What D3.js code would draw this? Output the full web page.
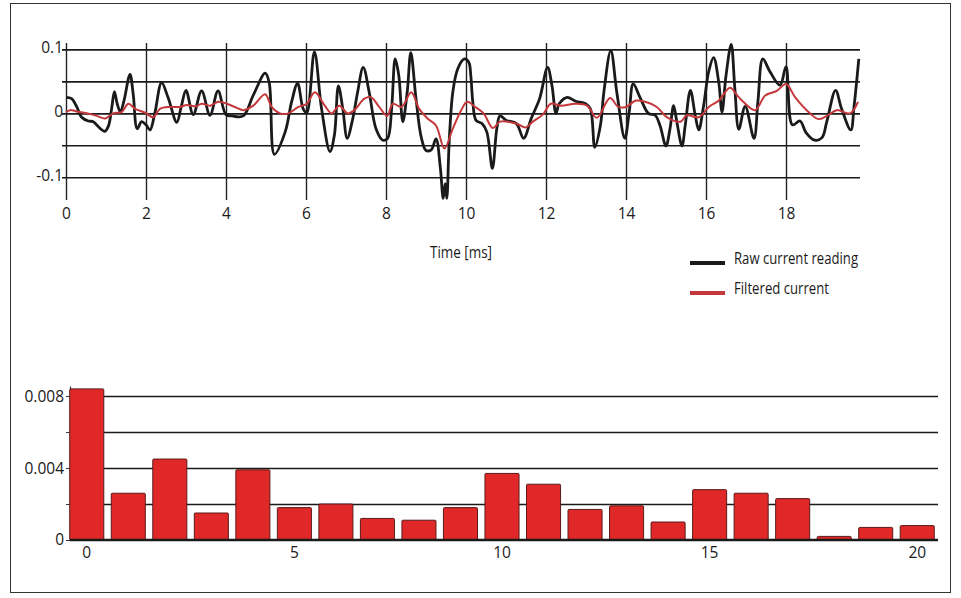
<!DOCTYPE html>
<html>
<head>
<meta charset="utf-8">
<script src="https://cdn.jsdelivr.net/npm/d3@7"></script>
<style>
  html, body { margin: 0; padding: 0; background: #fff; }
  svg text { font-family: "Open Sans", "DejaVu Sans", sans-serif; fill: #1a1a1a; }
</style>
</head>
<body>
<div id="chart"></div>
<script>
// Time signal, [ms, current]
var rawCurrent = [
  [0,0.025],[0.14,0.023],[0.27,0.01],[0.39,-0.006],[0.56,-0.012],[0.68,-0.013],[0.81,-0.021],[0.97,-0.028],
  [1.06,-0.02],[1.14,0.007],[1.21,0.034],[1.28,0.015],[1.36,0.002],[1.45,0.02],[1.6,0.061],[1.68,0.03],
  [1.78,-0.024],[1.89,-0.013],[2.0,-0.018],[2.1,-0.026],[2.22,0],[2.39,0.048],[2.55,0.025],[2.77,-0.014],
  [2.88,0.01],[3.0,0.036],[3.18,-0.002],[3.39,0.035],[3.6,-0.003],[3.8,0.035],[4.0,-0.002],[4.15,-0.004],
  [4.43,-0.004],[4.68,0.028],[4.98,0.063],[5.08,0.048],[5.21,-0.064],[5.48,-0.029],[5.64,0.018],[5.79,0.047],
  [5.93,0.007],[6.02,0.001],[6.21,0.096],[6.39,0.007],[6.6,-0.06],[6.71,-0.034],[6.81,0.043],[6.92,0.007],
  [7.03,-0.039],[7.17,-0.008],[7.29,0.033],[7.43,0.072],[7.58,0.033],[7.75,-0.024],[7.92,-0.042],[8.04,-0.039],
  [8.14,0.007],[8.23,0.085],[8.32,0.059],[8.42,-0.013],[8.53,0.033],[8.62,0.095],[8.75,0.023],[8.88,-0.037],
  [9.0,-0.058],[9.13,-0.057],[9.25,-0.04],[9.36,-0.086],[9.43,-0.133],[9.48,-0.11],[9.52,-0.133],[9.58,-0.044],
  [9.67,0.033],[9.79,0.069],[9.96,0.085],[10.07,0.08],[10.12,0.059],[10.17,0.018],[10.25,-0.011],[10.4,-0.016],
  [10.52,-0.029],[10.66,-0.086],[10.77,-0.024],[10.85,-0.004],[11.01,-0.011],[11.26,-0.016],[11.44,-0.039],
  [11.63,-0.008],[11.84,0.023],[12.04,0.072],[12.15,0.043],[12.25,0],[12.33,0.015],[12.53,0.025],[12.74,0.019],
  [12.99,0.015],[13.11,0.007],[13.22,-0.053],[13.36,-0.019],[13.45,0.035],[13.62,0.098],[13.77,0.033],
  [13.97,-0.039],[14.08,0.002],[14.18,0.046],[14.35,0.025],[14.56,0],[14.73,-0.003],[14.85,-0.019],[15.0,-0.051],
  [15.1,-0.024],[15.19,0.012],[15.27,-0.013],[15.4,-0.051],[15.48,-0.019],[15.61,0.036],[15.73,-0.003],
  [15.82,-0.026],[15.94,0.012],[16.07,0.066],[16.19,0.087],[16.32,0.048],[16.4,0.002],[16.5,0.059],[16.63,0.108],
  [16.72,0.04],[16.82,-0.025],[16.98,0.011],[17.2,-0.039],[17.3,0.02],[17.42,0.085],[17.6,0.065],[17.85,0.044],
  [18.0,0.073],[18.16,-0.018],[18.35,-0.012],[18.5,-0.03],[18.72,-0.042],[18.9,-0.038],[19.02,-0.013],
  [19.24,0.036],[19.39,0.007],[19.62,-0.026],[19.7,0.01],[19.82,0.085]
];

var filteredCurrent = [
  [0,0.002],[0.1,0.005],[0.27,0.003],[0.52,0],[0.77,-0.004],[0.98,-0.008],[1.18,0],[1.39,0.002],[1.56,0.015],
  [1.73,0.007],[1.98,0.001],[2.18,-0.006],[2.35,0.007],[2.6,0.01],[2.85,0.01],[3.02,0.013],[3.25,0.011],
  [3.39,0.015],[3.6,0.012],[3.81,0.018],[4.02,0.015],[4.22,0.01],[4.43,0.005],[4.68,0.012],[4.98,0.03],
  [5.14,0.01],[5.35,0],[5.56,0],[5.81,0.01],[6.02,0.015],[6.22,0.033],[6.47,0.012],[6.64,0],[6.83,0.012],
  [7.04,0],[7.21,0.005],[7.46,0.023],[7.63,0.025],[7.83,0.01],[8.03,-0.004],[8.17,0.015],[8.39,0.01],
  [8.63,0.033],[8.83,0.007],[9.04,-0.008],[9.25,-0.019],[9.46,-0.055],[9.67,-0.024],[9.88,0.005],[10.03,0.018],
  [10.23,0.01],[10.44,0],[10.67,-0.023],[10.85,-0.013],[11.26,-0.016],[11.49,-0.022],[11.67,-0.013],
  [11.92,-0.002],[12.12,0.015],[12.37,0.012],[12.74,0.015],[13.03,0.012],[13.27,-0.007],[13.6,0.024],
  [13.81,0.01],[14.0,0.01],[14.25,0.02],[14.48,0.018],[14.77,0.01],[15.02,-0.006],[15.36,-0.013],[15.52,-0.003],
  [15.82,-0.006],[16.07,0.01],[16.32,0.02],[16.6,0.04],[16.78,0.028],[16.93,0.018],[17.23,0.005],[17.48,0.028],
  [17.77,0.035],[18.0,0.046],[18.23,0.025],[18.6,0],[18.81,-0.009],[19.02,-0.004],[19.27,0.005],[19.6,0],
  [19.8,0.018]
];

var timeTicks = [0, 2, 4, 6, 8, 10, 12, 14, 16, 18];
var currentGrid = [-0.1, -0.05, 0, 0.05, 0.1];
var currentLabels = [-0.1, 0, 0.1];

// Spectrum bins
var spectrumBins = d3.range(0, 21);
var spectrumValues = [
  0.0084, 0.0026, 0.0045, 0.0015, 0.0039, 0.0018, 0.002, 0.0012, 0.0011, 0.0018,
  0.0037, 0.0031, 0.0017, 0.0019, 0.001, 0.0028, 0.0026, 0.0023, 0.0002, 0.0007, 0.0008
];
var spectrumTicks = [0, 5, 10, 15, 20];
var spectrumGrid = [0.002, 0.004, 0.006, 0.008];
var spectrumLabels = [0, 0.004, 0.008];

var legendItems = [
  { label: "Raw current reading", color: "#1a1a1a", len: 124 },
  { label: "Filtered current", color: "#c4383b", len: 95 }
];

// plain hyphen minus, like the original
var fmtCurrent = function(d) {
  return d === 0 ? "0" : d3.format(".1f")(d).replace("\u2212", "-");
};

var styleLabels = function(a) {
  a.select(".domain").remove();
  a.selectAll("text").attr("font-size", 15.5).attr("fill", "#1a1a1a")
    .style("font-family", "'Open Sans', sans-serif");
};

var render = function() {
  var svg = d3.select("#chart").html("")
    .append("svg")
    .attr("width", 961)
    .attr("height", 598);

  // outer frame
  svg.append("rect")
    .attr("x", 10.5).attr("y", 3.5)
    .attr("width", 940).attr("height", 589)
    .attr("fill", "none").attr("stroke", "#333").attr("stroke-width", 1);

  renderTimeChart(svg);
  renderSpectrum(svg);
};

var renderTimeChart = function(svg) {
  var xScale = d3.scaleLinear().domain([0, 19.85]).range([66, 860]);
  var yScale = d3.scaleLinear().domain([-0.1355, 0.11]).range([200, 43]);

  var g = svg.append("g").attr("class", "time-chart");

  // vertical grid
  g.append("g")
    .attr("transform", "translate(0,200)")
    .call(d3.axisBottom(xScale).tickValues(timeTicks).tickSize(-157).tickFormat(""))
    .call(function(a) {
      a.select(".domain").remove();
      a.selectAll("line").attr("stroke", "#222").attr("stroke-width", 1.4);
    });

  // horizontal grid, a little past the axis on the left
  g.append("g")
    .attr("transform", "translate(860,0)")
    .call(d3.axisLeft(yScale).tickValues(currentGrid).tickSize(798).tickFormat(""))
    .call(function(a) {
      a.select(".domain").remove();
      a.selectAll("line").attr("stroke", "#1a1a1a").attr("stroke-width", 1.6);
    });

  // x labels
  g.append("g")
    .attr("transform", "translate(0,200)")
    .call(d3.axisBottom(xScale).tickValues(timeTicks).tickSize(0).tickPadding(8))
    .call(styleLabels);

  // y labels
  g.append("g")
    .attr("transform", "translate(64,-2)")
    .call(d3.axisLeft(yScale).tickValues(currentLabels).tickSize(0).tickPadding(1)
      .tickFormat(fmtCurrent))
    .call(styleLabels);

  var line = d3.line()
    .x(function(d) { return xScale(d[0]); })
    .y(function(d) { return yScale(d[1]); })
    .curve(d3.curveCatmullRom.alpha(0.5));

  g.append("path")
    .datum(rawCurrent)
    .attr("d", line)
    .attr("fill", "none")
    .attr("stroke", legendItems[0].color)
    .attr("stroke-width", 2.8)
    .attr("stroke-linejoin", "round");

  g.append("path")
    .datum(filteredCurrent)
    .attr("d", line)
    .attr("fill", "none")
    .attr("stroke", legendItems[1].color)
    .attr("stroke-width", 2)
    .attr("stroke-linejoin", "round");

  // axis title
  g.append("text")
    .attr("x", 461).attr("y", 258)
    .attr("text-anchor", "middle")
    .attr("font-size", 15.5)
    .attr("textLength", 62).attr("lengthAdjust", "spacingAndGlyphs")
    .text("Time [ms]");

  // legend
  var legend = g.append("g").selectAll("g")
    .data(legendItems)
    .enter()
    .append("g")
    .attr("transform", function(d, i) { return "translate(690," + (263 + i * 30) + ")"; });

  legend.append("line")
    .attr("x1", 0).attr("x2", 35)
    .attr("stroke", function(d) { return d.color; })
    .attr("stroke-width", 4);

  legend.append("text")
    .attr("x", 44).attr("y", 1)
    .attr("font-size", 15.5)
    .attr("textLength", function(d) { return d.len; })
    .attr("lengthAdjust", "spacingAndGlyphs")
    .text(function(d) { return d.label; });
};

var renderSpectrum = function(svg) {
  var xScale = d3.scaleBand()
    .domain(spectrumBins)
    .range([66, 938])
    .paddingInner(0.18)
    .paddingOuter(0.09);

  var yScale = d3.scaleLinear().domain([0, 0.00856]).range([540, 386]);

  var g = svg.append("g").attr("class", "spectrum");

  // grid
  g.append("g")
    .attr("transform", "translate(938,0)")
    .call(d3.axisLeft(yScale).tickValues(spectrumGrid).tickSize(868).tickFormat(""))
    .call(function(a) {
      a.select(".domain").remove();
      a.selectAll("line").attr("stroke", "#1a1a1a").attr("stroke-width", 1.6);
    });

  // y axis with small ticks
  g.append("g")
    .attr("transform", "translate(70,0)")
    .call(d3.axisLeft(yScale).tickValues([0, 0.002, 0.004, 0.006, 0.008])
      .tickSize(4).tickSizeOuter(0).tickFormat(""))
    .call(function(a) {
      a.select(".domain").attr("stroke", "#333").attr("stroke-width", 1.2);
      a.selectAll("line").attr("stroke", "#333");
    });

  g.append("g")
    .attr("transform", "translate(66,0)")
    .call(d3.axisLeft(yScale).tickValues(spectrumLabels).tickSize(0).tickPadding(2)
      .tickFormat(function(d) { return d === 0 ? "0" : d3.format(".3f")(d); }))
    .call(styleLabels);

  // bars
  g.append("g")
    .attr("class", "bars")
    .selectAll("rect")
    .data(spectrumValues)
    .enter()
    .append("rect")
    .attr("x", function(d, i) { return xScale(spectrumBins[i]); })
    .attr("y", function(d) { return yScale(d); })
    .attr("width", xScale.bandwidth())
    .attr("height", function(d) { return yScale(0) - yScale(d); })
    .attr("rx", 1)
    .attr("fill", "#e02828")
    .attr("stroke", "#5a1a1a")
    .attr("stroke-width", 1);

  // zero line
  g.append("line")
    .attr("x1", 70).attr("x2", 938)
    .attr("y1", yScale(0)).attr("y2", yScale(0))
    .attr("stroke", "#1a1a1a").attr("stroke-width", 2.5);

  // x labels
  g.append("g")
    .attr("transform", "translate(0,540)")
    .call(d3.axisBottom(xScale).tickValues(spectrumTicks).tickSize(0).tickPadding(7))
    .call(styleLabels);
};

window.onload = render;
</script>
</body>
</html>
